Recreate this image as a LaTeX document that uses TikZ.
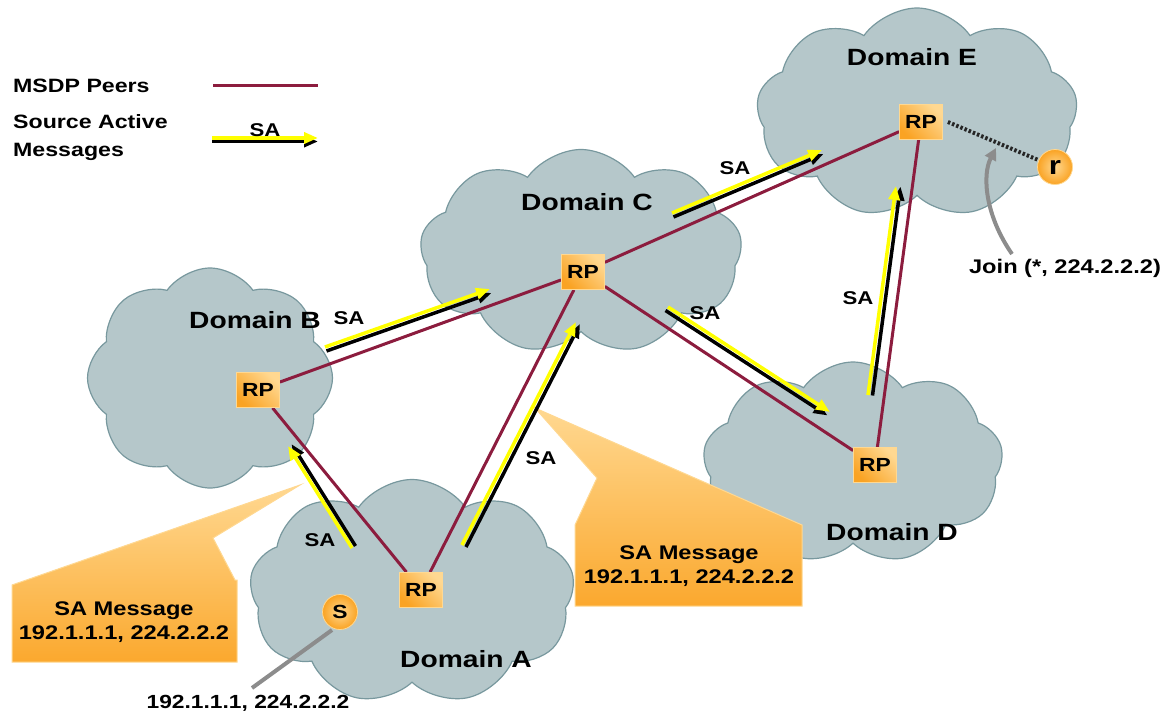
\documentclass[tikz,border=0pt]{standalone}
\usepackage{fontspec}
\setmainfont{Liberation Sans}[FakeStretch=1.2]
\usetikzlibrary{arrows.meta,calc,shapes.symbols}
\definecolor{cloudfill}{RGB}{181,199,202}
\definecolor{cloudedge}{RGB}{120,152,158}
\definecolor{peer}{RGB}{140,28,62}
\definecolor{orA}{RGB}{250,163,35}
\definecolor{orB}{RGB}{255,216,145}
\definecolor{sayel}{RGB}{255,255,0}
\definecolor{graytxt}{RGB}{140,140,140}
\newcommand\saarr[3]{%
  \draw[line width=3.5pt, black, -{Triangle[length=14pt,width=11pt]}] ($(#1)+(#3)$) -- ($(#2)+(#3)$);
  \draw[line width=3.5pt, sayel, -{Triangle[length=14pt,width=11pt]}] (#1) -- (#2);
}
\begin{document}
\begin{tikzpicture}[x=1pt,y=-1pt,
  font=\bfseries\fontsize{19.3}{22}\selectfont,
  lbl/.style={inner sep=0pt, align=center},
  dom/.style={lbl, font=\bfseries\fontsize{23.5}{26}\selectfont},
  salbl/.style={lbl, font=\bfseries\fontsize{18.5}{20}\selectfont},
  domcloud/.style={cloud, cloud puffs=#1, cloud puff arc=110, draw=cloudedge, line width=1.2pt,
     fill=cloudfill, inner sep=0pt},
  rpbox/.style={rectangle, inner sep=0pt, minimum width=43pt, minimum height=35pt,
     draw=orB, line width=0.8pt, left color=orA, right color=orB, shading angle=135,
     font=\bfseries\fontsize{19}{22}\selectfont},
  host/.style={circle, inner sep=0pt, minimum size=35pt, draw=orB, line width=0.8pt,
     inner color=orB, outer color=orA},
  peerline/.style={peer, line width=3pt},
  callout/.style={draw=orB, line width=1pt, top color=orB, bottom color=orA!90!orB},
]
\useasboundingbox (0,0) rectangle (1168,717);
\fill[white] (0,0) rectangle (1168,717);

% clouds
\node[domcloud=9, minimum width=321pt, minimum height=210pt, aspect=1.55, shape border rotate=10] (cE) at (917,113) {};
\node[domcloud=9, minimum width=322pt, minimum height=205pt, aspect=1.59, shape border rotate=5] (cC) at (581,252) {};
\node[domcloud=8, minimum width=245pt, minimum height=220pt, aspect=1.12, shape border rotate=15] (cB) at (210,378) {};
\node[domcloud=9, minimum width=300pt, minimum height=202pt, aspect=1.5, shape border rotate=20] (cD) at (853,463) {};
\node[domcloud=9, minimum width=325pt, minimum height=225pt, aspect=1.44, shape border rotate=0] (cA) at (412,592) {};

% domain labels
\node[dom] (dE) at (912,57) {Domain E};
\node[dom] (dC) at (587,202) {Domain C};
\node[dom] (dB) at (255,320) {Domain B};
\node[dom] (dA) at (466,659) {Domain A};
\node[dom] (dD) at (892,532) {Domain D};

% callouts
\path[callout] (12,662) -- (12,585) -- (300,485) -- (213,538) -- (235,580) -- (237,580) -- (237,662) -- cycle;
\path[callout] (575,606) -- (575,525) -- (597,478) -- (535,408) -- (802,525) -- (802,606) -- cycle;
\node[lbl, font=\bfseries\fontsize{19.7}{24}\selectfont] (c1) at (124,622) {SA Message\\192.1.1.1, 224.2.2.2};
\node[lbl, font=\bfseries\fontsize{19.7}{24}\selectfont] (c2) at (689,566) {SA Message\\192.1.1.1, 224.2.2.2};

% RP nodes and hosts
\node[rpbox] (rpE) at (921,122) {RP};
\node[rpbox] (rpC) at (583,272) {RP};
\node[rpbox] (rpB) at (258,390) {RP};
\node[rpbox] (rpD) at (875,465) {RP};
\node[rpbox] (rpA) at (421,590) {RP};
\node[host, font=\bfseries\fontsize{19}{20}\selectfont] (S) at (340,612) {S};
\node[host, font=\bfseries\fontsize{26}{26}\selectfont] (r) at (1055,167) {r};

% MSDP peer lines
\draw[peerline] (rpB) -- (rpC);
\draw[peerline] (rpC) -- (rpE);
\draw[peerline] (rpC) -- (rpD);
\draw[peerline] (rpE) -- (rpD);
\draw[peerline] (rpB) -- (rpA);
\draw[peerline] (rpA) -- (rpC);
\node[rpbox] at (rpE) {RP};
\node[rpbox] at (rpC) {RP};
\node[rpbox] at (rpB) {RP};
\node[rpbox] at (rpD) {RP};
\node[rpbox] at (rpA) {RP};

% join
\draw[black!85, line width=4pt, dash pattern=on 2.5pt off 2pt] ([xshift=5pt]rpE.east) -- (r);
\node[lbl, font=\bfseries\fontsize{19.7}{22}\selectfont] (join) at (1065,268) {Join (*, 224.2.2.2)};
\coordinate (jstart) at (1012,254);
\coordinate (jtip) at (996,148);
\draw[graytxt, line width=4pt, -{Triangle[length=12pt,width=12pt]}] (jstart) .. controls (985,215) and (982,175) .. (jtip);

% source
\node[lbl, font=\bfseries\fontsize{19}{22}\selectfont] (src) at (248,703) {192.1.1.1, 224.2.2.2};
\coordinate (sl1) at (332,630);
\coordinate (sl2) at (252,688);
\draw[graytxt, line width=4pt] (sl1) -- (sl2);

% SA arrows
\coordinate (b1) at (325,347); \coordinate (b2) at (490,289);
\coordinate (e1) at (672,213); \coordinate (e2) at (822,150);
\coordinate (d1) at (668,307); \coordinate (d2) at (830,412);
\coordinate (u1) at (868,395); \coordinate (u2) at (896,186);
\coordinate (a1) at (352,548); \coordinate (a2) at (288,446);
\coordinate (k1) at (462,545); \coordinate (k2) at (576,322);
\saarr{b1}{b2}{1.5,4}
\saarr{e1}{e2}{1.5,4}
\saarr{d1}{d2}{-2.5,3.5}
\saarr{u1}{u2}{4.5,0.5}
\saarr{a1}{a2}{3.5,-2}
\saarr{k1}{k2}{4,2}
\node[salbl] (sab) at (349,318) {SA};
\node[salbl] (sae) at (735,168) {SA};
\node[salbl] (sad) at (705,313) {SA};
\node[salbl] (sau) at (858,298) {SA};
\node[salbl] (saa) at (320,540) {SA};
\node[salbl] (sak) at (541,458) {SA};

% legend
\node[lbl, anchor=west] (lg1) at (13,86) {MSDP Peers};
\node[lbl, anchor=west, align=left, font=\bfseries\fontsize{19.3}{28}\selectfont] (lg2) at (13,138) {Source Active\\Messages};
\coordinate (lp1) at (213,86); \coordinate (lp2) at (318,86);
\draw[peerline] (lp1) -- (lp2);
\coordinate (ls1) at (212,138); \coordinate (ls2) at (318,138);
\saarr{ls1}{ls2}{0,3.5}
\node[salbl] (lsa) at (265,130) {SA};
\end{tikzpicture}
\end{document}
